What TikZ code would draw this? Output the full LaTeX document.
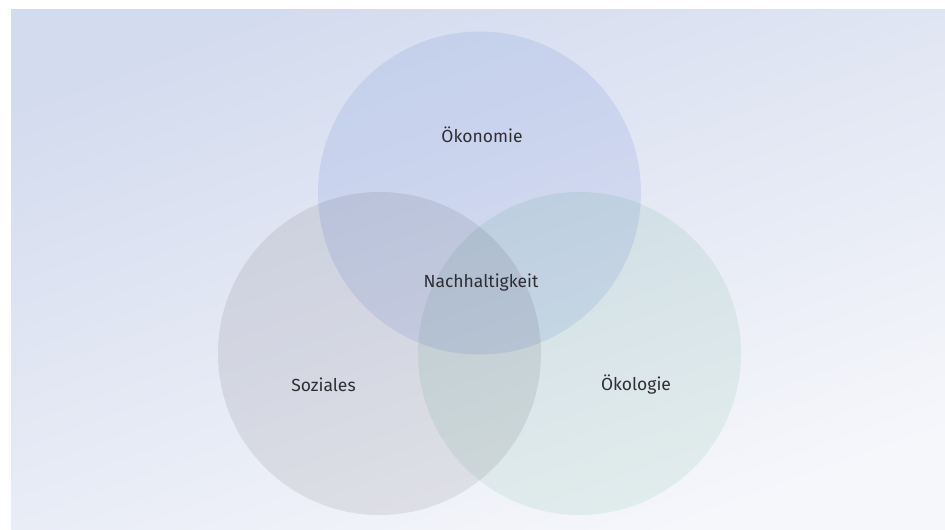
\documentclass[tikz,border=0pt]{standalone}
\usepackage{fontspec}
\setmainfont{Fira Sans}
\usepackage{tikz}

\definecolor{bgtop}{HTML}{D3DBEE}
\definecolor{bgbottom}{HTML}{F6F7FB}
\definecolor{oekonomiecol}{HTML}{E9EEFA}
\definecolor{sozialcol}{HTML}{ECEBEC}
\definecolor{oekologiecol}{HTML}{ECF6F1}
\definecolor{textcol}{HTML}{2E2E33}

\begin{document}
\begin{tikzpicture} [x=1pt, y=-1pt,
	set/.style={circle, minimum size=323pt, inner sep=0pt},
	lbl/.style={text=textcol, font=\fontsize{17.5}{21}\selectfont, inner sep=0pt}]
	\useasboundingbox (0,0) rectangle (945,530);
	
	\begin{scope}[blend group=multiply]
		% background
		\shade[top color=bgtop, bottom color=bgbottom, shading angle=20]
			(11,9) rectangle (945,530);
		\node[set, fill=oekonomiecol] (oekonomie) at (479.5,193) {};
		\node[set, fill=sozialcol] (soziales) at (379.5,353.5) {};
		\node[set, fill=oekologiecol] (oekologie) at (579.5,353.5) {};
	\end{scope}
	
	\node[lbl] (oekonomielbl) at (482,135) {Ökonomie};
	\node[lbl] (nachhaltig) at (481,283) {Nachhaltigkeit};
	\node[lbl] (soziallbl) at (323.5,385) {Soziales};
	\node[lbl] (oekologielbl) at (636,385) {Ökologie};
	
\end{tikzpicture}
\end{document}
